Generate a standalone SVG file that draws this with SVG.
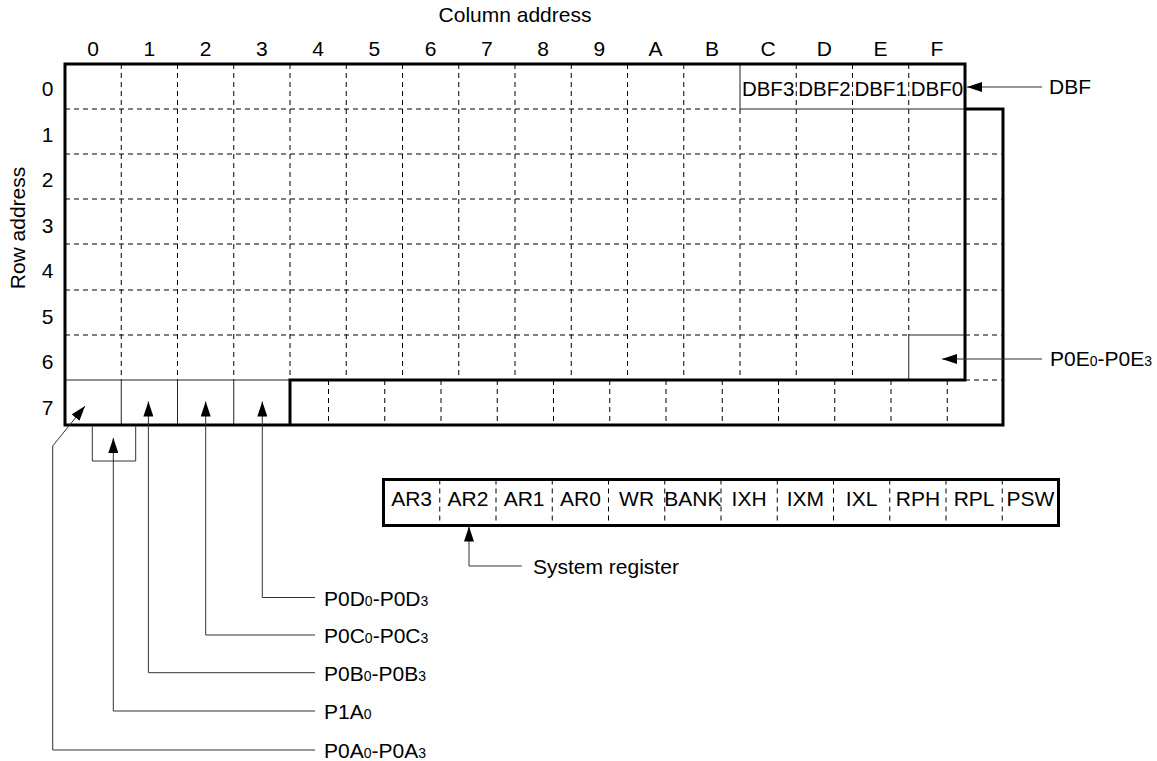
<svg xmlns="http://www.w3.org/2000/svg" width="1157" height="761" viewBox="0 0 1157 761">
<style>
text{font-family:"Liberation Sans",Arial,sans-serif;font-size:21px;fill:#000}
.c{text-anchor:middle}
.sub{font-size:14px}
.dash{stroke:#000;stroke-width:1;stroke-dasharray:5 4;fill:none}
.thin{stroke:#222;stroke-width:1;fill:none}
.thick{stroke:#000;stroke-width:3;fill:none;stroke-linecap:square}
.conn{stroke:#333;stroke-width:1;fill:none}
.ar{marker-end:url(#ah)}
</style>
<defs>
<marker id="ah" markerUnits="userSpaceOnUse" markerWidth="16" markerHeight="10" refX="15" refY="5" orient="auto">
<path d="M0,0 L15,5 L0,10 Z" fill="#000"/>
</marker>
</defs>
<rect width="1157" height="761" fill="#fff"/>
<g id="axis-labels">
<text class="c" x="515" y="22">Column address</text>
<text class="c" x="93.1" y="55.5">0</text>
<text class="c" x="149.4" y="55.5">1</text>
<text class="c" x="205.6" y="55.5">2</text>
<text class="c" x="261.9" y="55.5">3</text>
<text class="c" x="318.1" y="55.5">4</text>
<text class="c" x="374.4" y="55.5">5</text>
<text class="c" x="430.6" y="55.5">6</text>
<text class="c" x="486.9" y="55.5">7</text>
<text class="c" x="543.1" y="55.5">8</text>
<text class="c" x="599.4" y="55.5">9</text>
<text class="c" x="655.6" y="55.5">A</text>
<text class="c" x="711.9" y="55.5">B</text>
<text class="c" x="768.1" y="55.5">C</text>
<text class="c" x="824.4" y="55.5">D</text>
<text class="c" x="880.6" y="55.5">E</text>
<text class="c" x="936.9" y="55.5">F</text>
<text class="c" transform="translate(25,228) rotate(-90)">Row address</text>
<text class="c" x="47.5" y="96">0</text>
<text class="c" x="47.5" y="141.5">1</text>
<text class="c" x="47.5" y="187">2</text>
<text class="c" x="47.5" y="232.5">3</text>
<text class="c" x="47.5" y="278">4</text>
<text class="c" x="47.5" y="323.5">5</text>
<text class="c" x="47.5" y="369">6</text>
<text class="c" x="47.5" y="415">7</text>
</g>
<g id="ram-grid">
<path class="dash" d="M121.25,64V380M177.5,64V380M233.75,64V380M290,64V380M346.25,64V380M402.5,64V380M458.75,64V380M515,64V380M571.25,64V380M627.5,64V380M683.75,64V380M740,109V380M796.25,64V380M852.5,64V380M908.75,64V335"/>
<path class="dash" d="M65,109H740M65,154H1003M65,199H1003M65,244H1003M65,290H1003M65,335H909M965,335H1003M965,380H1003"/>
<path class="dash" d="M328.5,380V425M384.75,380V425M441,380V425M497.25,380V425M553.5,380V425M609.75,380V425M666,380V425M722.25,380V425M778.5,380V425M834.75,380V425M891,380V425M947.25,380V425"/>
<path class="thin" d="M740,64V109H965M908.75,380V335H965M65,380H290M121.25,380V425M177.5,380V425M233.75,380V425"/>
<path class="thick" d="M65,64H965V380H290V425M65,64V425H1003V109H965"/>
</g>
<g id="dbf">
<text class="c" x="768.1" y="95.5" style="font-size:20.5px">DBF3</text>
<text class="c" x="824.4" y="95.5" style="font-size:20.5px">DBF2</text>
<text class="c" x="880.6" y="95.5" style="font-size:20.5px">DBF1</text>
<text class="c" x="936.9" y="95.5" style="font-size:20.5px">DBF0</text>
<text x="1049" y="94">DBF</text>
</g>
<g id="p0e">
<text x="1050" y="366">P0E<tspan class="sub">0</tspan>-P0E<tspan class="sub">3</tspan></text>
</g>
<g id="system-register">
<rect class="thick" x="383.5" y="479.5" width="675" height="46"/>
<path class="dash" d="M439.75,479.5V525.5M496,479.5V525.5M552.25,479.5V525.5M608.5,479.5V525.5M664.75,479.5V525.5M721,479.5V525.5M777.25,479.5V525.5M833.5,479.5V525.5M889.75,479.5V525.5M946,479.5V525.5M1002.25,479.5V525.5"/>
<text class="c" x="411.6" y="505.5">AR3</text>
<text class="c" x="467.9" y="505.5">AR2</text>
<text class="c" x="524.1" y="505.5">AR1</text>
<text class="c" x="580.4" y="505.5">AR0</text>
<text class="c" x="636.6" y="505.5">WR</text>
<text class="c" x="692.9" y="505.5">BANK</text>
<text class="c" x="749.1" y="505.5">IXH</text>
<text class="c" x="805.4" y="505.5">IXM</text>
<text class="c" x="861.6" y="505.5">IXL</text>
<text class="c" x="917.9" y="505.5">RPH</text>
<text class="c" x="974.1" y="505.5">RPL</text>
<text class="c" x="1030.4" y="505.5">PSW</text>
<text x="533" y="574">System register</text>
</g>
<g id="port-labels">
<text x="324" y="605.5">P0D<tspan class="sub">0</tspan>-P0D<tspan class="sub">3</tspan></text>
<text x="324" y="643">P0C<tspan class="sub">0</tspan>-P0C<tspan class="sub">3</tspan></text>
<text x="324" y="681">P0B<tspan class="sub">0</tspan>-P0B<tspan class="sub">3</tspan></text>
<text x="324" y="719">P1A<tspan class="sub">0</tspan></text>
<text x="324" y="758">P0A<tspan class="sub">0</tspan>-P0A<tspan class="sub">3</tspan></text>
</g>
<g id="connectors">
<path class="conn ar" d="M1042,87H967"/>
<path class="conn ar" d="M1042,359H942"/>
<path class="conn ar" d="M521.7,566H469V526.5"/>
<path class="conn ar" d="M315,597.5H262.3V401.5"/>
<path class="conn ar" d="M315,635H205.7V401.5"/>
<path class="conn ar" d="M315,672.7H148.4V401.5"/>
<path class="conn ar" d="M315,711H113.3V438"/>
<path class="conn ar" d="M315,750H52.7V446L85,406"/>
<path class="conn" d="M92.3,426.5V461H135.7V426.5"/>
</g>
</svg>
